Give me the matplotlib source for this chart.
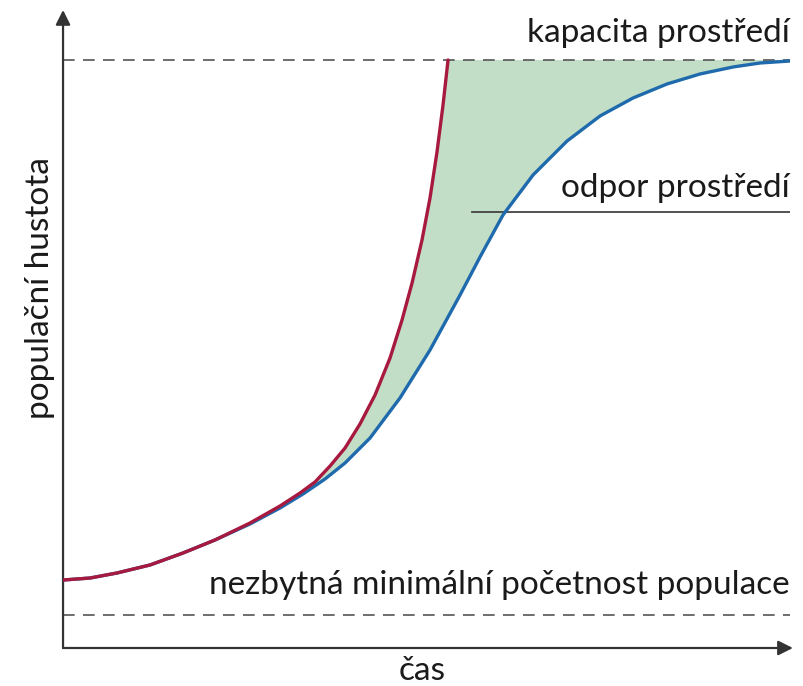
import matplotlib
matplotlib.use('Agg')
import matplotlib.pyplot as plt

plt.rcParams['font.family'] = ['Lato', 'DejaVu Sans']

# exponenciální růst (bez odporu prostředí) - čas, populační hustota
t_exp = [0, 0.371, 0.743, 1.197, 1.651, 2.091, 2.572, 2.985, 3.260, 3.466, 3.673, 3.879,
         4.085, 4.292, 4.498, 4.663, 4.801, 4.938, 5.048, 5.144, 5.227, 5.296]
n_exp = [11.56, 11.90, 12.76, 14.12, 16.16, 18.37, 21.26, 24.15, 26.36, 28.23, 30.95, 34.01,
         38.10, 43.03, 49.32, 55.78, 62.07, 69.39, 76.53, 84.35, 92.35, 100]

# logistický růst
t_log = [0, 0.371, 0.743, 1.197, 1.651, 2.091, 2.572, 2.985, 3.301, 3.604, 3.879, 4.223, 4.635,
         5.048, 5.461, 5.736, 6.052, 6.465, 6.933, 7.387, 7.841, 8.308, 8.762, 9.216, 9.587, 10.0]
n_log = [11.56, 11.90, 12.76, 14.12, 16.16, 18.37, 21.09, 23.81, 26.19, 28.74, 31.46, 35.71, 42.52,
         50.68, 60.03, 66.50, 73.64, 80.44, 86.22, 90.48, 93.54, 95.92, 97.62, 98.81, 99.49, 99.83]

kapacita = 100
minimum = 5.6
odpor_y = 74.15
odpor_x = [5.63, 10.0]

fig = plt.figure(figsize=(8.04, 6.86), dpi=100)
ax = fig.add_axes([0.0784, 0.0554, 0.9042, 0.930])
ax.set_xlim(0, 10)
ax.set_ylim(0, 108.5)
ax.axis('off')

# zelená plocha mezi křivkami = odpor prostředí
poly_x = t_exp + [10.0] + t_log[::-1]
poly_y = n_exp + [kapacita] + n_log[::-1]
ax.fill(poly_x, poly_y, color='#c2dec6', lw=0, zorder=1)

ax.plot(t_log, n_log, color='#1f6aac', lw=2.4, zorder=3, solid_capstyle='round', solid_joinstyle='round')
ax.plot(t_exp, n_exp, color='#a8193f', lw=2.4, zorder=4, solid_capstyle='round', solid_joinstyle='round')

ax.plot([0, 10], [kapacita, kapacita], color='#555555', lw=1.2, dashes=(7, 5), zorder=2)
ax.plot([0, 10], [minimum, minimum], color='#555555', lw=1.2, dashes=(7, 5), zorder=2)
ax.plot(odpor_x, [odpor_y, odpor_y], color='#444444', lw=1.3, zorder=2)

# osy se šipkami
ax.annotate('', xy=(0, 1.0), xytext=(0, 0), xycoords='axes fraction',
            arrowprops=dict(arrowstyle='-|>', color='#333333', lw=1.6, mutation_scale=22,
                            shrinkA=0, shrinkB=0))
ax.annotate('', xy=(1.004, 0), xytext=(0, 0), xycoords='axes fraction',
            arrowprops=dict(arrowstyle='-|>', color='#333333', lw=1.6, mutation_scale=22,
                            shrinkA=0, shrinkB=0))

fs = 24
barva = '#1a1a1a'
ax.text(10, 104.6, 'kapacita prostředí', ha='right', va='center', fontsize=fs, color=barva)
ax.text(10, 78.2, 'odpor prostředí', ha='right', va='center', fontsize=fs, color=barva)
ax.text(10, 10.7, 'nezbytná minimální početnost populace', ha='right', va='center',
        fontsize=fs, color=barva)
ax.text(4.94, -3.9, 'čas', ha='center', va='center', fontsize=fs, color=barva, clip_on=False)
ax.text(-0.32, 61.2, 'populační hustota', ha='center', va='center', rotation=90,
        fontsize=fs, color=barva, clip_on=False)

fig.savefig('out.png', dpi=100)
